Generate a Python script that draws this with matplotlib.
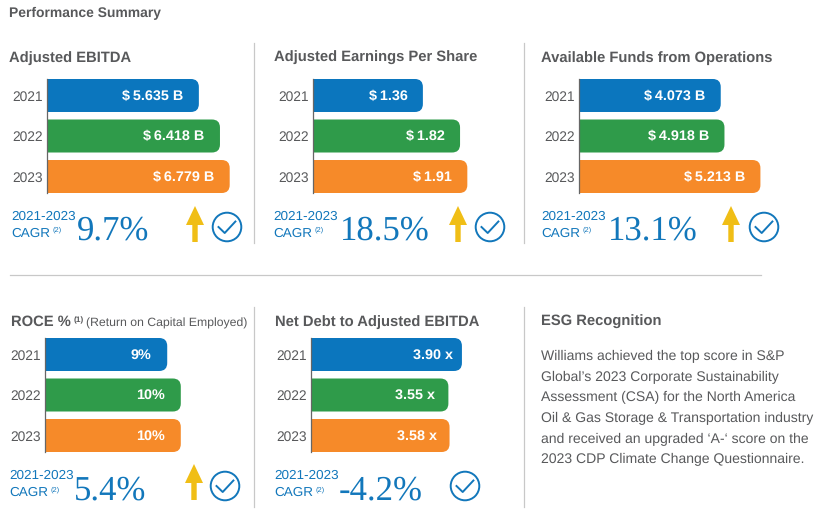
"""Performance summary panels: five small bar charts and an ESG note."""

import matplotlib
matplotlib.use("Agg")
import matplotlib.pyplot as plt
from matplotlib.patches import Circle, PathPatch, Polygon
from matplotlib.path import Path

W, H = 820, 513
BLUE, GREEN, ORANGE = "#0b76be", "#2f9b4a", "#f68a29"
GRAY = "#58595b"
ACCENT = "#1277bb"
YELLOW = "#f0be16"
RULE = "#c8c8c8"

YEARS = ["2021", "2022", "2023"]

EBITDA = [5.635, 6.418, 6.779]
EBITDA_LABELS = ["$\u20095.635 B", "$\u20096.418 B", "$\u20096.779 B"]
EPS = [1.36, 1.82, 1.91]
EPS_LABELS = ["$\u20091.36", "$\u20091.82", "$\u20091.91"]
# the 2022 bar is drawn shorter than its label in the original
FFO = [4.073, 4.18, 5.213]
FFO_LABELS = ["$\u20094.073 B", "$\u20094.918 B", "$\u20095.213 B"]
ROCE = [9, 10, 10]
ROCE_LABELS = ["9%", "10%", "10%"]
LEVERAGE = [3.90, 3.55, 3.58]
LEVERAGE_LABELS = ["3.90 x", "3.55 x", "3.58 x"]

ESG_LINES = [
    "Williams achieved the top score in S&P",
    "Global\u2019s 2023 Corporate Sustainability",
    "Assessment (CSA) for the North America",
    "Oil & Gas Storage & Transportation industry",
    "and received an upgraded \u2018A-\u2018 score on the",
    "2023 CDP Climate Change Questionnaire.",
]

plt.rcParams["font.family"] = ["Liberation Sans", "DejaVu Sans"]
plt.rcParams["text.hinting"] = "none"
fig = plt.figure(figsize=(W / 100, H / 100), dpi=100)
bg = fig.add_axes([0, 0, 1, 1])
bg.set_xlim(0, W)
bg.set_ylim(H, 0)
bg.axis("off")


def rounded_bar(ax, y, value, height, color, rx, ry):
    top, bottom = y - height / 2, y + height / 2
    verts = [(0, top), (value - rx, top), (value, top), (value, top + ry),
             (value, bottom - ry), (value, bottom), (value - rx, bottom),
             (0, bottom), (0, top)]
    codes = [Path.MOVETO, Path.LINETO, Path.CURVE3, Path.CURVE3,
             Path.LINETO, Path.CURVE3, Path.CURVE3, Path.LINETO, Path.CLOSEPOLY]
    ax.add_patch(PathPatch(Path(verts, codes), fc=color, ec="none"))


def panel(x0, top, scale, values, labels, gaps=(15.5, 15.5, 15.5)):
    """x0/top in pixels, scale is pixels per data unit."""
    width = 200
    ax = fig.add_axes([x0 / W, 1 - (top + 114) / H, width / W, 114 / H])
    ax.patch.set_alpha(0)
    ax.set_xlim(0, width / scale)
    ax.set_ylim(2.407, -0.407)
    rx, ry = 8 / scale, 8 / 40.5
    for i, (value, label, color) in enumerate(zip(values, labels, [BLUE, GREEN, ORANGE])):
        rounded_bar(ax, i, value, 33 / 40.5, color, rx, ry)
        ax.annotate(label, (value, i), xytext=(-gaps[i] * 0.72, -0.5),
                    textcoords="offset points", ha="right", va="center",
                    color="white", fontsize=10.4, fontweight="bold")
    ax.set_yticks(range(3), YEARS)
    ax.set_xticks([])
    ax.tick_params(axis="y", length=0, pad=2.8, labelsize=9.9, labelcolor=GRAY)
    for side in ("top", "right", "bottom"):
        ax.spines[side].set_visible(False)
    ax.spines["left"].set_color("#666666")
    ax.spines["left"].set_linewidth(0.9)


def cagr(x, y, big_x, text):
    bg.text(x, y, "2021-2023", color=ACCENT, fontsize=9.7)
    bg.text(x, y + 17, "CAGR", color=ACCENT, fontsize=9.7)
    bg.text(x + 42, y + 12, "(2)", color=ACCENT, fontsize=5.4)
    bg.text(big_x, y + 20.5, text, color=ACCENT, fontsize=25,
            family="Liberation Serif")


def arrow(x, tip):
    bg.add_patch(Polygon(
        [(x, tip), (x + 9, tip + 19), (x + 2.7, tip + 19), (x + 2.7, tip + 36),
         (x - 2.7, tip + 36), (x - 2.7, tip + 19), (x - 9, tip + 19)],
        fc=YELLOW, ec="none"))


def check(x, y):
    bg.add_patch(Circle((x, y), 14.3, fc="none", ec=ACCENT, lw=1.4))
    bg.plot([x - 8.5, x - 2.3, x + 8.4], [y, y + 6, y - 5.5], color=ACCENT, lw=1.4)


bg.text(9, 17.3, "Performance Summary", color=GRAY, fontsize=10, fontweight="bold")
for x in (254, 524):
    bg.plot([x, x], [43, 243], color=RULE, lw=0.9)
    bg.plot([x, x], [307, 507], color=RULE, lw=0.9)
bg.plot([10, 761], [275, 275], color=RULE, lw=0.9)

for x, y, title in [(9, 62.3, "Adjusted EBITDA"), (274, 62.3, "Adjusted Earnings Per Share"),
                    (541.5, 62.3, "Available Funds from Operations"),
                    (275, 326.3, "Net Debt to Adjusted EBITDA"), (541.5, 326.3, "ESG Recognition")]:
    bg.text(x, y, title, color=GRAY, fontsize=10.6, fontweight="bold")
bg.text(11, 326.3, "ROCE %", color=GRAY, fontsize=10.6, fontweight="bold")
bg.text(73.5, 322, "(1)", color=GRAY, fontsize=6, fontweight="bold")
bg.text(86, 326.3, "(Return on Capital Employed)", color=GRAY, fontsize=8.83)

panel(47, 79, 26.95, EBITDA, EBITDA_LABELS)
panel(313, 79, 80.8, EPS, EPS_LABELS)
panel(579, 79, 34.8, FFO, FFO_LABELS)
panel(45, 338, 13.58, ROCE, ROCE_LABELS)
panel(311, 338, 38.7, LEVERAGE, LEVERAGE_LABELS, gaps=(9, 13, 13))

cagr(11, 219.5, 77, "9.7%")
cagr(273, 219.5, 340, "18.5%")
cagr(541, 219.5, 608, "13.1%")
cagr(9, 479.2, 74, "5.4%")
cagr(274, 479.2, 339, "-4.2%")

for x, tip in [(195, 206), (458, 206), (731, 206), (194, 464)]:
    arrow(x, tip)
for x, y in [(227, 227), (490, 227), (764, 227), (225, 486), (465, 486)]:
    check(x, y)

for i, line in enumerate(ESG_LINES):
    bg.text(541.5, 360.3 + i * 20.6, line, color=GRAY, fontsize=10.08)

fig.savefig("out.png", dpi=100)
